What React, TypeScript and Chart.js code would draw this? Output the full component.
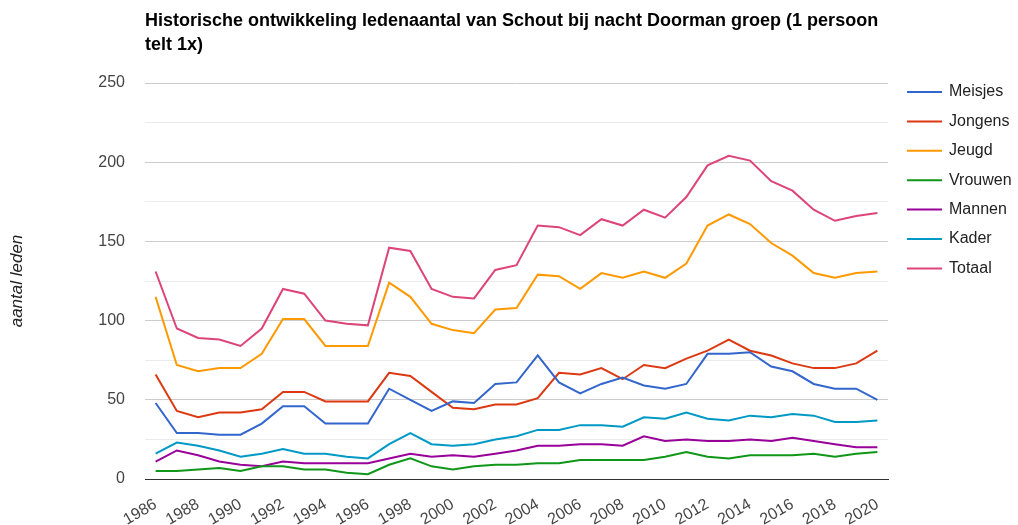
import React, { useEffect, useRef } from "react";
import { Chart, registerables } from "chart.js";

Chart.register(...registerables);

const years = [
  "1986", "1987", "1988", "1989", "1990", "1991", "1992", "1993", "1994", "1995",
  "1996", "1997", "1998", "1999", "2000", "2001", "2002", "2003", "2004", "2005",
  "2006", "2007", "2008", "2009", "2010", "2011", "2012", "2013", "2014", "2015",
  "2016", "2017", "2018", "2019", "2020",
];

const meisjes = [48, 29, 29, 28, 28, 35, 46, 46, 35, 35, 35, 57, 50, 43, 49, 48, 60, 61, 78, 61, 54, 60, 64, 59, 57, 60, 79, 79, 80, 71, 68, 60, 57, 57, 50];
const jongens = [66, 43, 39, 42, 42, 44, 55, 55, 49, 49, 49, 67, 65, 55, 45, 44, 47, 47, 51, 67, 66, 70, 63, 72, 70, 76, 81, 88, 81, 78, 73, 70, 70, 73, 81];
const jeugd = [115, 72, 68, 70, 70, 79, 101, 101, 84, 84, 84, 124, 115, 98, 94, 92, 107, 108, 129, 128, 120, 130, 127, 131, 127, 136, 160, 167, 161, 149, 141, 130, 127, 130, 131];
const vrouwen = [5, 5, 6, 7, 5, 8, 8, 6, 6, 4, 3, 9, 13, 8, 6, 8, 9, 9, 10, 10, 12, 12, 12, 12, 14, 17, 14, 13, 15, 15, 15, 16, 14, 16, 17];
const mannen = [11, 18, 15, 11, 9, 8, 11, 10, 10, 10, 10, 13, 16, 14, 15, 14, 16, 18, 21, 21, 22, 22, 21, 27, 24, 25, 24, 24, 25, 24, 26, 24, 22, 20, 20];
const kader = [16, 23, 21, 18, 14, 16, 19, 16, 16, 14, 13, 22, 29, 22, 21, 22, 25, 27, 31, 31, 34, 34, 33, 39, 38, 42, 38, 37, 40, 39, 41, 40, 36, 36, 37];
const totaal = [131, 95, 89, 88, 84, 95, 120, 117, 100, 98, 97, 146, 144, 120, 115, 114, 132, 135, 160, 159, 154, 164, 160, 170, 165, 178, 198, 204, 201, 188, 182, 170, 163, 166, 168];

const seriesNames = ["Meisjes", "Jongens", "Jeugd", "Vrouwen", "Mannen", "Kader", "Totaal"];
const seriesValues = [meisjes, jongens, jeugd, vrouwen, mannen, kader, totaal];
const seriesColors = ["#3366cc", "#dc3912", "#ff9900", "#109618", "#990099", "#0099c6", "#dd4477"];

const titleLines = [
  "Historische ontwikkeling ledenaantal van Schout bij nacht Doorman groep (1 persoon",
  "telt 1x)",
];
const yTitle = "aantal leden";

const FONT = "Arial, 'Liberation Sans', sans-serif";

const overlayPlugin = {
  id: "overlay",
  afterDraw(chart: any) {
    const ctx = chart.ctx;
    const area = chart.chartArea;
    ctx.save();
    ctx.font = `bold 18px ${FONT}`;
    ctx.fillStyle = "#000";
    ctx.textAlign = "left";
    ctx.textBaseline = "middle";
    titleLines.forEach((t, i) => ctx.fillText(t, area.left, 21 + i * 24));

    ctx.font = `16px ${FONT}`;
    ctx.fillStyle = "#222";
    chart.data.datasets.forEach((ds: any, i: number) => {
      const y = area.top + 9 + i * 29.4;
      const x0 = area.right + 19;
      ctx.strokeStyle = ds.borderColor;
      ctx.lineWidth = 2;
      ctx.beginPath();
      ctx.moveTo(x0, y);
      ctx.lineTo(x0 + 35, y);
      ctx.stroke();
      ctx.fillText(ds.label, x0 + 42, y);
    });
    ctx.restore();
  },
};

export default function App() {
  const ref = useRef<HTMLCanvasElement>(null);
  useEffect(() => {
    if (!ref.current) return;
    const chart = new Chart(ref.current, {
      type: "line",
      data: {
        labels: years,
        datasets: seriesNames.map((name, i) => ({
          label: name,
          data: seriesValues[i],
          borderColor: seriesColors[i],
          backgroundColor: seriesColors[i],
          borderWidth: 2,
          pointRadius: 0,
          tension: 0,
          fill: false,
        })),
      },
      options: {
        responsive: false,
        animation: false,
        layout: { padding: { top: 83, right: 130, bottom: 0, left: 0 } },
        plugins: {
          legend: { display: false },
          title: { display: false },
          tooltip: { enabled: false },
        },
        scales: {
          x: {
            type: "category",
            offset: true,
            grid: { display: false, drawTicks: false },
            border: { display: true, color: "#333", width: 1 },
            ticks: {
              autoSkip: false,
              maxRotation: 30,
              minRotation: 30,
              padding: 16,
              color: "#444",
              font: { family: FONT, size: 16 },
              callback: (_v: any, idx: number) => (idx % 2 === 0 ? years[idx] : ""),
            },
            afterFit: (s: any) => {
              s.height = 46;
            },
          },
          y: {
            min: 0,
            max: 250,
            grid: {
              drawTicks: false,
              color: (c: any) => (c.tick && c.tick.value % 50 === 0 ? "#cccccc" : "#ebebeb"),
              lineWidth: 1,
            },
            border: { display: false },
            ticks: {
              stepSize: 25,
              padding: 20,
              color: "#444",
              font: { family: FONT, size: 16 },
              callback: (v: any) => (Number(v) % 50 === 0 ? String(v) : ""),
            },
            title: {
              display: true,
              text: yTitle,
              color: "#222",
              font: { family: FONT, size: 17, style: "italic" },
              padding: { top: 7, bottom: 0 },
            },
            afterFit: (s: any) => {
              s.width = 145;
            },
          },
        },
      },
      plugins: [overlayPlugin],
    });
    return () => chart.destroy();
  }, []);
  return (
    <div style={{ position: "fixed", left: 0, top: 0, width: 1018, height: 525, overflow: "hidden", background: "#fff" }}>
      <canvas ref={ref} width={1018} height={525} style={{ display: "block" }} />
    </div>
  );
}
